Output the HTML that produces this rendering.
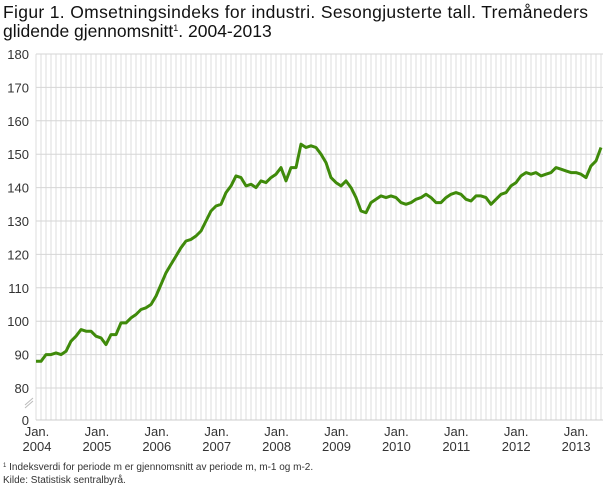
<!DOCTYPE html>
<html><head><meta charset="utf-8"><style>
body{margin:0;background:#fff;width:610px;height:488px;overflow:hidden;font-family:"Liberation Sans",sans-serif;}
</style></head><body>
<svg id="s" width="610" height="488" xmlns="http://www.w3.org/2000/svg" font-family="Liberation Sans, sans-serif">
<text x="3" y="18" font-size="17.5" fill="#111" textLength="585">Figur 1. Omsetningsindeks for industri. Sesongjusterte tall. Tremåneders</text>
<text x="3" y="37" font-size="17.5" fill="#111">glidende gjennomsnitt<tspan font-size="9" dy="-6">1</tspan><tspan dy="6">. 2004-2013</tspan></text>
<g id="grid"></g>
<text x="3" y="470" font-size="10" fill="#333"><tspan font-size="6" dy="-3">1</tspan><tspan dy="3"> Indeksverdi for periode m er gjennomsnitt av periode m, m-1 og m-2.</tspan></text>
<text x="3" y="483" font-size="10" fill="#333">Kilde: Statistisk sentralbyrå.</text>
</svg>
<script>
var s=document.getElementById('grid'),h='';
var X0=36,X1=603;
function Y(v){return 54+(180-v)*3.34;}
for(var i=0;i<=113;i++){var x=36+i*5;h+='<line x1="'+x+'" y1="54" x2="'+x+'" y2="420" stroke="#ddd" stroke-width="1"/>';}
var labs=[180,170,160,150,140,130,120,110,100,90,80];
labs.forEach(function(v){var y=Y(v);h+='<line x1="'+X0+'" y1="'+y+'" x2="'+X1+'" y2="'+y+'" stroke="#d6d6d6"/>';h+='<text x="29" y="'+(y+5)+'" font-size="13" fill="#333" text-anchor="end">'+v+'</text>';});
h+='<line x1="'+X0+'" y1="420" x2="'+X1+'" y2="420" stroke="#ccc"/>';
h+='<text x="29" y="425" font-size="13" fill="#333" text-anchor="end">0</text>';
h+='<line x1="25" y1="405" x2="33" y2="398" stroke="#bbb"/><line x1="25" y1="408" x2="33" y2="401" stroke="#bbb"/>';
for(var k=0;k<10;k++){var x=37+k*59.9;h+='<text x="'+x+'" y="436" font-size="13" fill="#333" text-anchor="middle">Jan.</text><text x="'+x+'" y="451" font-size="13" fill="#333" text-anchor="middle">'+(2004+k)+'</text>';}
var d=[88,88,90,90,90.5,90,91,94,95.5,97.5,97,97,
95.5,95,93,96,96,99.5,99.5,101,102,103.5,104,
105,107.5,111,114.5,117,119.5,122,124,124.5,125.5,127,
130,133,134.5,135,138.5,140.5,143.5,143,140.5,141,140,142,
141.5,143,144,146,142,146,146,153,152,152.5,152,150,
147.5,143,141.5,140.5,142,140,137,133,132.5,135.5,136.5,137.5,
137,137.5,137,135.5,135,135.5,136.5,137,138,137,135.5,135.5,
137,138,138.5,138,136.5,136,137.5,137.5,137,135,136.5,138,
138.5,140.5,141.5,143.5,144.5,144,144.5,143.5,144,144.5,146,145.5,
145,144.5,144.5,144,143,146.5,148,152];
var p=d.map(function(v,i){return (601-(d.length-1-i)*5)+','+Y(v).toFixed(1);}).join(' ');
h+='<polyline points="'+p+'" fill="none" stroke="#3f8a0a" stroke-width="3" stroke-linejoin="round"/>';
s.innerHTML=h;
</script>
</body></html>
